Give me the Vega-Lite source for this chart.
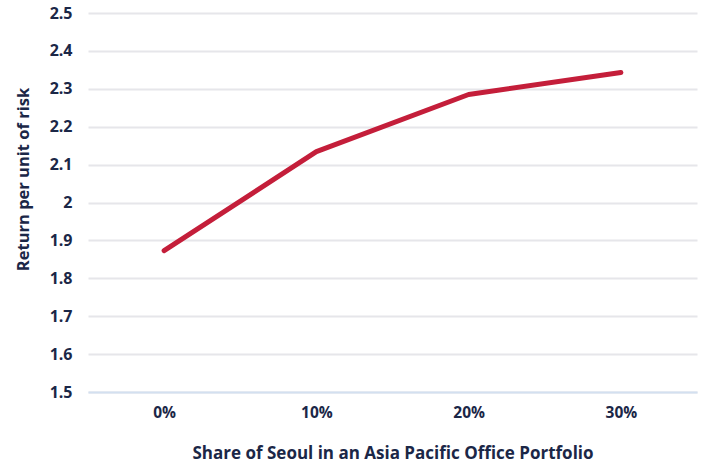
{
  "$schema": "https://vega.github.io/schema/vega-lite/v6.json",
  "width": 609,
  "height": 379,
  "autosize": "none",
  "padding": {"left": 88, "top": 13, "right": 6, "bottom": 72},
  "background": "white",
  "config": {
    "view": {"stroke": null},
    "font": "Open Sans"
  },
  "data": {
    "values": [
      {"share": "0%", "ratio": 1.873},
      {"share": "10%", "ratio": 2.134},
      {"share": "20%", "ratio": 2.285},
      {"share": "30%", "ratio": 2.343}
    ]
  },
  "mark": {"type": "line", "color": "#c41e3a", "strokeWidth": 5, "strokeCap": "round", "strokeJoin": "round"},
  "encoding": {
    "x": {
      "field": "share",
      "type": "ordinal",
      "sort": null,
      "scale": {"type": "point", "padding": 0.5},
      "axis": {
        "title": "Share of Seoul in an Asia Pacific Office Portfolio",
        "labelAngle": 0,
        "labelFont": "Open Sans",
        "labelFontWeight": "bold",
        "labelFontSize": 15.5,
        "labelColor": "#1b2747",
        "labelPadding": 13,
        "ticks": false,
        "domain": true,
        "domainColor": "#d3e0f0",
        "domainWidth": 2,
        "titleFont": "Open Sans",
        "titleFontWeight": "bold",
        "titleFontSize": 17,
        "titleColor": "#1b2747",
        "titlePadding": 25
      }
    },
    "y": {
      "field": "ratio",
      "type": "quantitative",
      "scale": {"domain": [1.5, 2.5], "nice": false, "zero": false},
      "axis": {
        "title": "Return per unit of risk",
        "values": [1.5, 1.6, 1.7, 1.8, 1.9, 2, 2.1, 2.2, 2.3, 2.4, 2.5],
        "labelExpr": "format(datum.value, '~g')",
        "labelFont": "Open Sans",
        "labelFontWeight": "bold",
        "labelFontSize": 16,
        "labelColor": "#1b2747",
        "labelPadding": 16,
        "ticks": false,
        "domain": false,
        "grid": true,
        "gridColor": "#e6e6ea",
        "gridWidth": 2,
        "titleFont": "Open Sans",
        "titleFontWeight": "bold",
        "titleFontSize": 16.5,
        "titleColor": "#1b2747",
        "titlePadding": 18,
        "titleY": 166
      }
    }
  }
}
